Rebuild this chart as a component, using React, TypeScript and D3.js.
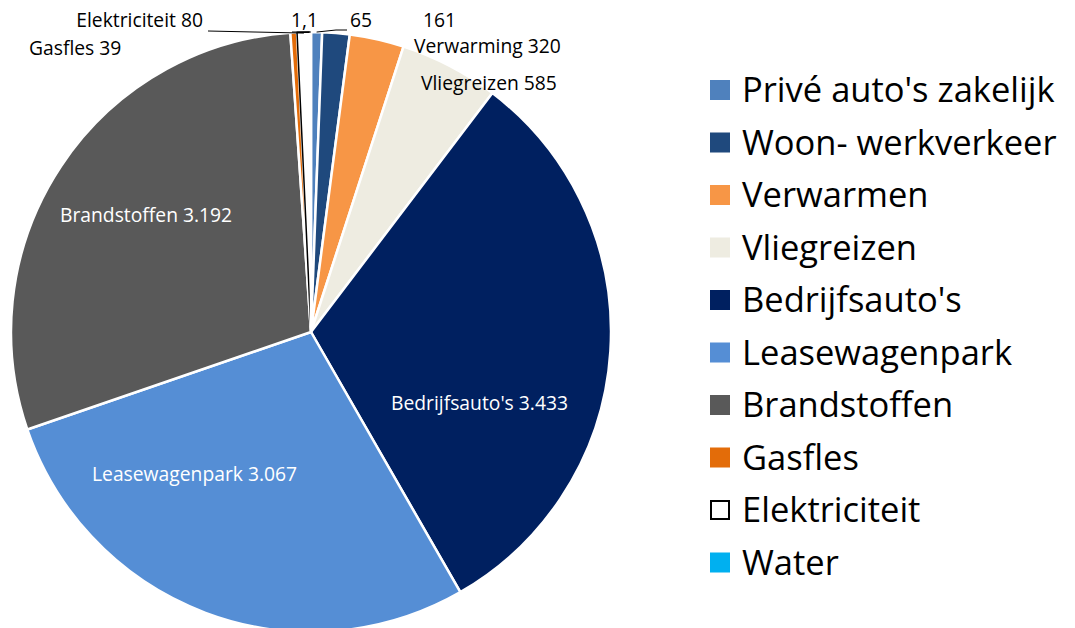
import React from "react";
import * as d3 from "d3";

const categories = [
  "Privé auto's zakelijk",
  "Woon- werkverkeer",
  "Verwarmen",
  "Vliegreizen",
  "Bedrijfsauto's",
  "Leasewagenpark",
  "Brandstoffen",
  "Gasfles",
  "Elektriciteit",
  "Water",
];
const values = [65, 161, 320, 585, 3433, 3067, 3192, 39, 80, 1.1];
const labelTexts = [
  "65",
  "161",
  "Verwarming 320",
  "Vliegreizen 585",
  "Bedrijfsauto's 3.433",
  "Leasewagenpark 3.067",
  "Brandstoffen 3.192",
  "Gasfles 39",
  "Elektriciteit 80",
  "1,1",
];
const colors = [
  "#4f81bd",
  "#1f497d",
  "#f79646",
  "#eeece1",
  "#002060",
  "#558ed5",
  "#595959",
  "#e36c09",
  "#ffffff",
  "#00b0f0",
];

// label layout (x, baseline y, anchor, colour)
const labelLayout: [number, number, string, string][] = [
  [350, 27, "start", "#000"],
  [423, 27, "start", "#000"],
  [414, 53, "start", "#000"],
  [421, 90, "start", "#000"],
  [391, 410, "start", "#fff"],
  [92, 481, "start", "#fff"],
  [60, 222, "start", "#fff"],
  [29, 55, "start", "#000"],
  [203, 27, "end", "#000"],
  [291, 27, "start", "#000"],
];

export default function App() {
  const cx = 311;
  const cy = 332;
  const r = 300;
  const pie = d3.pie<number>().sort(null).value((d) => d);
  const arcs = pie(values);
  const arc = d3.arc<d3.PieArcDatum<number>>().innerRadius(0).outerRadius(r);
  const pt = (a: number, rad: number) => [cx + rad * Math.sin(a), cy - rad * Math.cos(a)];

  const mid = (i: number) => (arcs[i].startAngle + arcs[i].endAngle) / 2;
  const pPriv = pt(mid(0), r);
  const pElek = pt(mid(8), r);
  const pWater = pt(mid(9), r);

  const font = "'Open Sans', sans-serif";
  return (
    <svg width={1075} height={628} style={{ position: "absolute", left: 0, top: 0 }}>
      <rect width={1075} height={628} fill="#fff" />
      <g transform={`translate(${cx},${cy})`}>
        {arcs.map((a, i) => (
          <path
            key={i}
            d={arc(a) || ""}
            fill={colors[i]}
            stroke={i === 8 ? "#000" : "#fff"}
            strokeWidth={i === 8 ? 1.5 : 2.5}
            strokeLinejoin="round"
          />
        ))}
      </g>
      {/* leader lines */}
      <polyline
        points={`${pPriv[0]},${pPriv[1]} 336,30 347,30`}
        fill="none"
        stroke="#000"
        strokeWidth={1}
      />
      <polyline
        points={`208,31 ${pElek[0]},${pElek[1] + 1}`}
        fill="none"
        stroke="#000"
        strokeWidth={1}
      />
      <polyline
        points={`292,32 ${pWater[0]},32 ${pWater[0]},${pWater[1]}`}
        fill="none"
        stroke="#000"
        strokeWidth={1}
      />
      {labelTexts.map((t, i) => (
        <text
          key={i}
          x={labelLayout[i][0]}
          y={labelLayout[i][1]}
          textAnchor={labelLayout[i][2] as any}
          fill={labelLayout[i][3]}
          fontFamily={font}
          fontSize={19.3}
        >
          {t}
        </text>
      ))}
      {categories.map((c, i) => {
        const y = 90 + i * 52.5;
        return (
          <g key={c}>
            <rect
              x={i === 8 ? 711 : 710}
              y={i === 8 ? y - 9 : y - 10}
              width={i === 8 ? 18 : 20}
              height={i === 8 ? 18 : 20}
              fill={colors[i]}
              stroke={i === 8 ? "#000" : "none"}
              strokeWidth={2}
            />
            <text x={742} y={y + 12} fontFamily={font} fontSize={34.5} fill="#000">
              {c}
            </text>
          </g>
        );
      })}
    </svg>
  );
}
